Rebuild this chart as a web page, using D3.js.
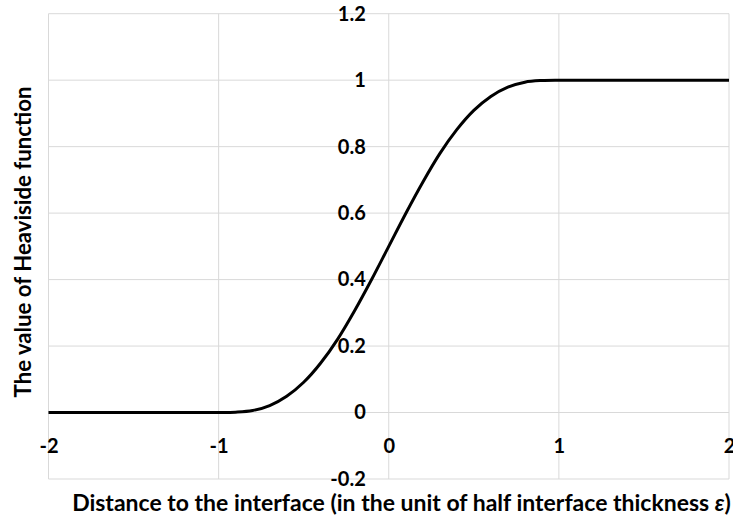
<!DOCTYPE html>
<html>
<head>
<meta charset="utf-8">
<script src="https://cdn.jsdelivr.net/npm/d3@7"></script>
<style>
  body { margin: 0; background: #fff; }
  svg text { font-family: Lato, "Open Sans", sans-serif; font-weight: bold; fill: #000; }
</style>
</head>
<body>
<div class="chart"></div>
<script>
// distance to the interface (units of eps) and value of the smoothed Heaviside function
const xValues = [-2, -1.9, -1.8, -1.7, -1.6, -1.5, -1.4, -1.3, -1.2, -1.1,
  -1, -0.9, -0.8, -0.7, -0.6, -0.5, -0.4, -0.3, -0.2, -0.1,
  0, 0.1, 0.2, 0.3, 0.4, 0.5, 0.6, 0.7, 0.8, 0.9,
  1, 1.1, 1.2, 1.3, 1.4, 1.5, 1.6, 1.7, 1.8, 1.9, 2];
const hValues = [0, 0, 0, 0, 0, 0, 0, 0, 0, 0,
  0, 0.001, 0.006, 0.021, 0.049, 0.091, 0.149, 0.221, 0.307, 0.401,
  0.5, 0.599, 0.693, 0.779, 0.851, 0.909, 0.951, 0.979, 0.994, 0.999,
  1, 1, 1, 1, 1, 1, 1, 1, 1, 1, 1];

const xTicks = [-2, -1, 0, 1, 2];
const xTickLabels = ["-2", "-1", "0", "1", "2"];
const yTicks = [-0.2, 0, 0.2, 0.4, 0.6, 0.8, 1, 1.2];
const yTickLabels = ["-0.2", "0", "0.2", "0.4", "0.6", "0.8", "1", "1.2"];

const xTitle = "Distance to the interface (in the unit of half interface thickness ";
const yTitle = "The value of Heaviside function";

function drawChart() {
  const width = 733;
  const height = 521;
  const plot = {left: 48.5, right: 729, top: 13.7, bottom: 479};

  const svg = d3.select(".chart").append("svg")
    .attr("width", width)
    .attr("height", height);

  const xScale = d3.scaleLinear()
    .domain([-2, 2])
    .range([plot.left, plot.right]);

  const yScale = d3.scaleLinear()
    .domain([-0.2, 1.2])
    .range([plot.bottom, plot.top]);

  // gridlines
  svg.append("g").selectAll("line")
    .data(yTicks)
    .enter()
    .append("line")
      .attr("x1", plot.left)
      .attr("x2", plot.right)
      .attr("y1", d => yScale(d))
      .attr("y2", d => yScale(d))
      .attr("stroke", "#d9d9d9")
      .attr("stroke-width", 1);

  svg.append("g").selectAll("line")
    .data(xTicks)
    .enter()
    .append("line")
      .attr("x1", d => xScale(d))
      .attr("x2", d => xScale(d))
      .attr("y1", plot.top)
      .attr("y2", plot.bottom)
      .attr("stroke", "#d9d9d9")
      .attr("stroke-width", 1);

  // axes cross at zero
  const xAxis = d3.axisBottom(xScale)
    .tickValues(xTicks)
    .tickFormat((d, i) => xTickLabels[i])
    .tickSize(0)
    .tickPadding(26);
  const yAxis = d3.axisLeft(yScale)
    .tickValues(yTicks)
    .tickFormat((d, i) => yTickLabels[i])
    .tickSize(0)
    .tickPadding(23);

  const gx = svg.append("g")
    .attr("transform", `translate(0, ${yScale(0)})`)
    .call(xAxis);
  const gy = svg.append("g")
    .attr("transform", `translate(${xScale(0)}, 0)`)
    .call(yAxis);

  for (const g of [gx, gy]) {
    g.select(".domain").remove();
    g.selectAll("text")
      .attr("fill", "#000")
      .style("font-family", "Lato, sans-serif")
      .style("font-size", "20px")
      .style("font-weight", "bold");
  }

  // curve
  const data = xValues.map((x, i) => ({x: x, h: hValues[i]}));
  const line = d3.line()
    .x(d => xScale(d.x))
    .y(d => yScale(d.h))
    .curve(d3.curveCardinal.tension(0));

  svg.append("path")
    .attr("fill", "none")
    .attr("stroke", "#000")
    .attr("stroke-width", 3)
    .attr("stroke-linejoin", "round")
    .attr("d", line(data));

  // axis titles
  const xt = svg.append("text")
    .attr("x", 401.5)
    .attr("y", 511)
    .attr("text-anchor", "middle")
    .style("font-size", "20px");
  xt.append("tspan").text(xTitle);
  xt.append("tspan").style("font-style", "italic").text("ε");
  xt.append("tspan").text(")");
  const xw = xt.node().getComputedTextLength();
  xt.style("font-size", `${20 * 659 / xw}px`);

  const yt = svg.append("text")
    .attr("transform", "translate(31, 242) rotate(-90)")
    .attr("text-anchor", "middle")
    .style("font-size", "20px")
    .text(yTitle);
  const yw = yt.node().getComputedTextLength();
  yt.style("font-size", `${20 * 311 / yw}px`);
}

drawChart();
</script>
</body>
</html>
